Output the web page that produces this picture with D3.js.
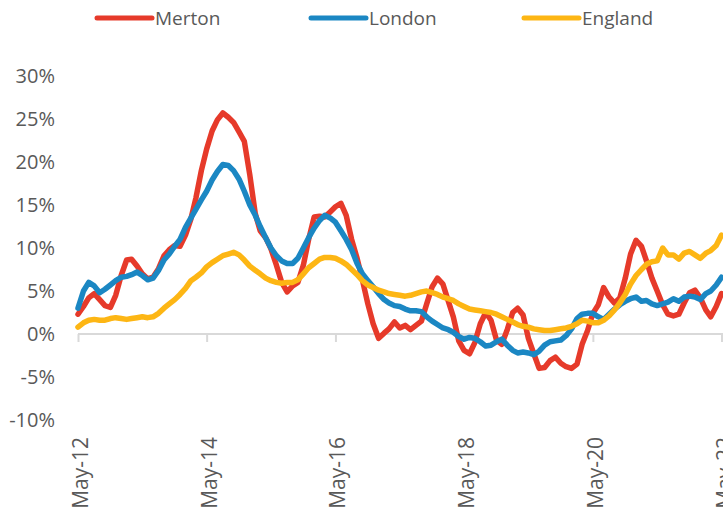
<!DOCTYPE html>
<html>
<head>
<meta charset="utf-8">
<script src="https://cdn.jsdelivr.net/npm/d3@7"></script>
<style>
  html, body { margin: 0; padding: 0; background: #fff; }
  svg { display: block; font-family: "Open Sans", sans-serif; }
</style>
</head>
<body>
<svg id="chart" width="723" height="513"></svg>
<script>
// monthly annual change (%), May-12 .. May-22
const merton = [
  2.3, 3.2, 4.2, 4.7, 4.0, 3.3, 3.1, 4.5, 6.8, 8.6, 8.7, 7.9,
  7.0, 6.4, 6.6, 7.6, 9.1, 9.8, 10.3, 10.2, 11.5, 13.4, 15.8, 19.0,
  21.5, 23.6, 24.9, 25.7, 25.2, 24.6, 23.5, 22.4, 18.5, 14.0, 12.0, 11.2,
  9.9, 8.0, 6.0, 4.9, 5.6, 6.0, 8.0, 11.0, 13.6, 13.7, 13.6, 14.2,
  14.8, 15.2, 13.8, 11.0, 8.8, 6.3, 3.5, 1.2, -0.5, 0.1, 0.6, 1.4,
  0.7, 1.0, 0.5, 1.0, 1.5, 3.5, 5.5, 6.5, 5.8, 3.8, 2.0, -0.8,
  -1.9, -2.3, -1.0, 1.2, 2.5, 1.6, -0.7, -1.2, 0.5, 2.5, 3.0, 2.2,
  -0.5, -2.3, -4.0, -3.9, -3.1, -2.7, -3.4, -3.8, -4.0, -3.5, -1.2, 0.4,
  2.4, 3.4, 5.4, 4.3, 3.6, 4.2, 6.5, 9.3, 10.9, 10.2, 8.5, 6.5,
  5.0, 3.4, 2.3, 2.1, 2.3, 3.6, 4.8, 5.1, 4.2, 2.8, 2.0, 3.2,
  4.7
]
const london = [
  3.0, 5.0, 6.0, 5.6, 4.8, 5.2, 5.7, 6.2, 6.6, 6.7, 6.9, 7.2,
  6.8, 6.3, 6.5, 7.4, 8.6, 9.3, 10.2, 11.0, 12.4, 13.5, 14.5, 15.6,
  16.6, 17.9, 18.9, 19.7, 19.6, 19.0, 18.0, 16.6, 15.0, 13.8, 12.5, 11.2,
  10.0, 9.1, 8.5, 8.2, 8.2, 8.8, 10.0, 11.2, 12.3, 13.2, 13.8, 13.5,
  13.0, 12.0, 11.0, 9.8, 8.2, 7.0, 6.2, 5.5, 4.7, 4.0, 3.6, 3.3,
  3.2, 2.9, 2.7, 2.7, 2.6, 2.0, 1.5, 1.1, 0.7, 0.5, 0.2, -0.3,
  -0.6, -0.4, -0.5, -0.9, -1.4, -1.3, -0.9, -0.6, -1.3, -1.9, -2.2, -2.1,
  -2.2, -2.4, -2.0, -1.3, -0.9, -0.8, -0.7, -0.2, 0.6, 1.8, 2.3, 2.4,
  2.4, 2.0, 1.7, 2.3, 2.9, 3.4, 3.8, 4.1, 4.3, 3.8, 3.9, 3.5,
  3.3, 3.5, 3.7, 4.1, 3.8, 4.3, 4.4, 4.3, 4.0, 4.7, 5.0, 5.7,
  6.6
]
const england = [
  0.8, 1.3, 1.6, 1.7, 1.6, 1.6, 1.8, 1.9, 1.8, 1.7, 1.8, 1.9,
  2.0, 1.9, 2.0, 2.4, 3.0, 3.5, 4.0, 4.6, 5.3, 6.2, 6.6, 7.1,
  7.8, 8.3, 8.7, 9.1, 9.3, 9.5, 9.2, 8.6, 7.9, 7.4, 7.0, 6.5,
  6.2, 6.0, 5.9, 6.0, 6.0, 6.3, 7.0, 7.7, 8.2, 8.7, 8.9, 8.9,
  8.8, 8.5, 8.1, 7.5, 6.9, 6.2, 5.7, 5.4, 5.1, 4.9, 4.7, 4.6,
  4.5, 4.4, 4.5, 4.7, 4.9, 5.0, 4.8, 4.6, 4.3, 4.1, 3.9, 3.5,
  3.2, 2.9, 2.8, 2.7, 2.6, 2.5, 2.3, 2.0, 1.7, 1.4, 1.1, 0.9,
  0.8, 0.6, 0.5, 0.4, 0.4, 0.5, 0.6, 0.7, 0.9, 1.2, 1.6, 1.5,
  1.3, 1.3, 1.6, 2.1, 2.8, 3.6, 4.6, 5.8, 6.8, 7.5, 8.1, 8.4,
  8.5, 10.0, 9.2, 9.2, 8.7, 9.4, 9.6, 9.2, 8.8, 9.4, 9.7, 10.3,
  11.5
]
const seriesNames = ['Merton', 'London', 'England']
const seriesColors = ['#E63A2A', '#1B87C3', '#FDB614']
const yTicks = [-10, -5, 0, 5, 10, 15, 20, 25, 30]
const xTickEvery = 24 // months between labels

const svg = d3.select('#chart')
const startDate = new Date(2012, 4, 1)
const dates = merton.map((_, i) => d3.timeMonth.offset(startDate, i))

const x = d3.scaleTime()
  .domain([startDate, new Date(2022, 4, 1)])
  .range([78, 721.5])
const y = d3.scaleLinear()
  .domain([-10, 30])
  .range([420, 76])

const textColor = '#595959'
const axisColor = '#D9D9D9'

// y labels only, no gridlines
svg.append('g')
  .selectAll('text')
  .data(yTicks)
  .enter()
  .append('text')
  .attr('x', 55)
  .attr('y', (d) => y(d))
  .attr('dy', '0.36em')
  .attr('text-anchor', 'end')
  .attr('fill', textColor)
  .style('font-size', '20px')
  .text((d) => d + '%')

// zero line with ticks
const xAxis = d3.axisBottom(x)
  .tickValues(dates.filter((_, i) => i % xTickEvery === 0))
  .tickSize(8)
  .tickFormat('')
const gx = svg.append('g')
  .attr('transform', `translate(0,${y(0)})`)
  .call(xAxis)
gx.select('.domain').attr('d', `M78,0H723`).attr('stroke', axisColor).attr('stroke-width', 2)
gx.selectAll('.tick line').attr('stroke', axisColor).attr('stroke-width', 2)

// rotated month labels
svg.append('g')
  .selectAll('text')
  .data(dates.filter((_, i) => i % xTickEvery === 0))
  .enter()
  .append('text')
  .attr('transform', (d) => `translate(${x(d) + 10},437) rotate(-90)`)
  .attr('text-anchor', 'end')
  .attr('fill', textColor)
  .style('font-size', '21px')
  .text(d3.timeFormat('%b-%y'))

// lines
const line = d3.line()
  .x((d, i) => x(dates[i]))
  .y((d) => y(d))

const allSeries = [merton, london, england]
svg.append('g')
  .selectAll('path')
  .data(allSeries)
  .enter()
  .append('path')
  .attr('d', line)
  .attr('fill', 'none')
  .attr('stroke', (d, i) => seriesColors[i])
  .attr('stroke-width', 5.5)
  .attr('stroke-linejoin', 'round')
  .attr('stroke-linecap', 'round')

// legend
const legendX = [97, 311, 524]
const legend = svg.append('g')
  .selectAll('g')
  .data(seriesNames)
  .enter()
  .append('g')
  .attr('transform', (d, i) => `translate(${legendX[i]},18)`)
legend.append('line')
  .attr('x1', 0)
  .attr('x2', 55)
  .attr('stroke', (d, i) => seriesColors[i])
  .attr('stroke-width', 5)
  .attr('stroke-linecap', 'round')
legend.append('text')
  .attr('x', 58)
  .attr('dy', '0.36em')
  .attr('fill', textColor)
  .style('font-size', '19px')
  .text((d) => d)
</script>
</body>
</html>
